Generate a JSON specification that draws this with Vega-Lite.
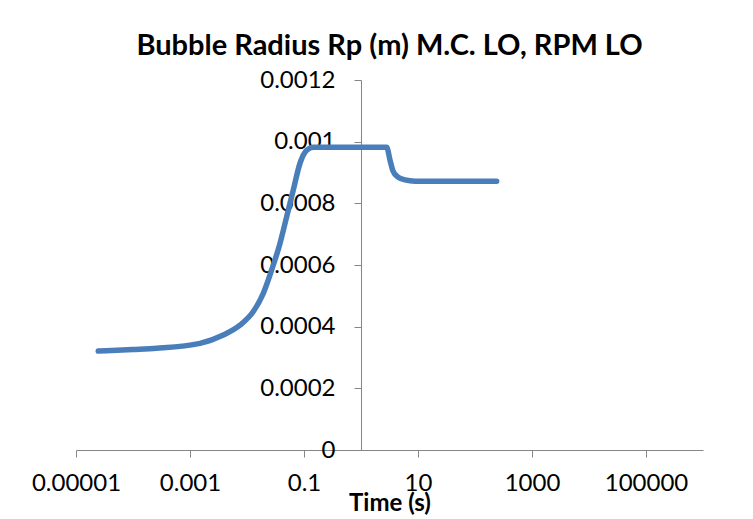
{
  "$schema": "https://vega.github.io/schema/vega-lite/v6.json",
  "autosize": {"type": "none"},
  "width": 627,
  "height": 370,
  "padding": {"left": 76, "top": 80, "right": 50, "bottom": 69},
  "background": "white",
  "title": {
    "text": "Bubble Radius Rp (m) M.C. LO, RPM LO",
    "font": "Lato",
    "fontSize": 29,
    "fontWeight": "bold",
    "color": "#000000",
    "anchor": "middle",
    "frame": "group",
    "baseline": "alphabetic",
    "offset": 23,
    "dy": 39
  },
  "data": {
    "values": [
      {"t": 0.0000246, "r": 0.000321},
      {"t": 0.0001, "r": 0.000326},
      {"t": 0.00026, "r": 0.000330},
      {"t": 0.0015, "r": 0.000346},
      {"t": 0.00384, "r": 0.000373},
      {"t": 0.00753, "r": 0.000405},
      {"t": 0.0129, "r": 0.000449},
      {"t": 0.0193, "r": 0.000508},
      {"t": 0.0271, "r": 0.000584},
      {"t": 0.0379, "r": 0.000670},
      {"t": 0.0497, "r": 0.000757},
      {"t": 0.0648, "r": 0.000843},
      {"t": 0.0851, "r": 0.000930},
      {"t": 0.1115, "r": 0.000972},
      {"t": 0.1455, "r": 0.000982},
      {"t": 0.3, "r": 0.000982},
      {"t": 1, "r": 0.000982},
      {"t": 2.82, "r": 0.000982},
      {"t": 3.23, "r": 0.000940},
      {"t": 3.64, "r": 0.000905},
      {"t": 4.46, "r": 0.000885},
      {"t": 5.91, "r": 0.000876},
      {"t": 8.85, "r": 0.000872},
      {"t": 30, "r": 0.000872},
      {"t": 240, "r": 0.000872}
    ]
  },
  "mark": {
    "type": "line",
    "color": "#4A7EBB",
    "strokeWidth": 5.5,
    "strokeCap": "round",
    "strokeJoin": "round",
    "interpolate": "monotone",
    "clip": false
  },
  "encoding": {
    "x": {
      "field": "t",
      "type": "quantitative",
      "scale": {"type": "log", "domain": [0.00001, 1000000], "nice": false},
      "axis": {
        "title": "Time (s)",
        "values": [0.00001, 0.001, 0.1, 10, 1000, 100000],
        "format": "~f",
        "grid": false,
        "domainColor": "#868686",
        "tickColor": "#868686",
        "tickSize": 7,
        "labelFont": "Lato",
        "labelFontSize": 24,
        "labelColor": "#000000",
        "labelPadding": 14,
        "labelFlush": false,
        "labelOverlap": false,
        "titleFont": "Lato",
        "titleFontSize": 24,
        "titleFontWeight": "bold",
        "titleColor": "#000000",
        "titleBaseline": "alphabetic",
        "titleY": 60
      }
    },
    "y": {
      "field": "r",
      "type": "quantitative",
      "scale": {"domain": [0, 0.0012], "nice": false, "zero": true},
      "axis": {
        "title": null,
        "values": [0, 0.0002, 0.0004, 0.0006, 0.0008, 0.001, 0.0012],
        "format": "~f",
        "grid": false,
        "offset": -285,
        "domainColor": "#868686",
        "tickColor": "#868686",
        "tickSize": 7,
        "labelFont": "Lato",
        "labelFontSize": 24,
        "labelColor": "#000000",
        "labelPadding": 19,
        "labelOverlap": false,
        "labelFlush": false
      }
    }
  },
  "config": {"view": {"stroke": null}}
}
